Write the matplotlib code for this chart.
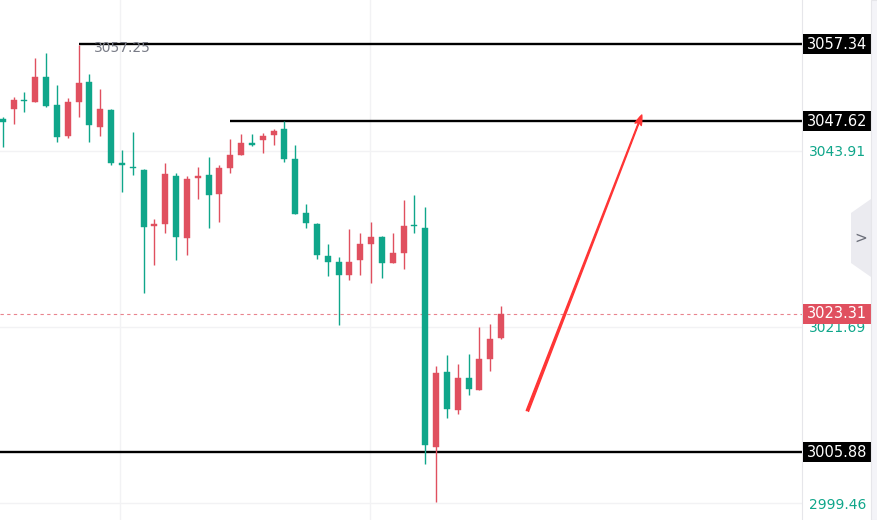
import matplotlib.pyplot as plt
import matplotlib.transforms as mtransforms
from matplotlib.patches import Rectangle, Polygon
import numpy as np

# bougies (open, high, low, close)
opens = [3047.84, 3049.18, 3050.24, 3050.06, 3053.22, 3049.61, 3045.74, 3050.06, 3052.59, 3046.91,
         3049.08, 3042.27, 3041.80, 3041.41, 3034.33, 3034.64, 3040.73, 3032.91, 3040.48, 3040.78,
         3038.46, 3041.74, 3043.34, 3044.76, 3045.23, 3045.86, 3046.58, 3042.80, 3035.99, 3034.70,
         3030.64, 3029.85, 3028.21, 3030.06, 3032.12, 3033.04, 3029.76, 3031.02, 3034.49, 3034.10,
         3006.56, 3015.98, 3011.15, 3015.18, 3013.71, 3017.62, 3020.30]
highs = [3048.17, 3050.69, 3051.32, 3055.61, 3056.24, 3052.13, 3050.49, 3057.25, 3053.56, 3051.67,
         3049.14, 3043.97, 3046.28, 3041.54, 3035.27, 3042.30, 3041.04, 3040.73, 3041.87, 3043.13,
         3042.08, 3045.36, 3045.99, 3045.99, 3046.08, 3046.58, 3047.62, 3044.60, 3037.13, 3034.73,
         3032.08, 3030.52, 3034.01, 3033.47, 3034.93, 3033.17, 3033.47, 3037.67, 3038.26, 3036.82,
         3016.77, 3018.08, 3016.99, 3018.25, 3021.69, 3021.99, 3024.34]
lows = [3044.39, 3047.25, 3048.80, 3050.00, 3049.43, 3045.02, 3045.45, 3048.17, 3045.02, 3045.78,
        3042.04, 3038.72, 3040.82, 3025.90, 3029.47, 3033.54, 3030.10, 3030.73, 3037.76, 3034.18,
        3034.93, 3041.11, 3043.30, 3044.48, 3043.63, 3044.60, 3042.42, 3035.85, 3034.10, 3030.23,
        3028.08, 3021.91, 3027.58, 3028.21, 3027.24, 3027.87, 3029.70, 3028.93, 3033.57, 3004.38,
        2999.62, 3010.22, 3010.68, 3013.04, 3013.65, 3016.14, 3020.14]
closes = [3047.50, 3050.24, 3050.15, 3053.22, 3049.56, 3045.65, 3050.03, 3052.46, 3047.09, 3049.14,
          3042.30, 3042.14, 3041.68, 3034.30, 3034.60, 3040.91, 3033.04, 3040.28, 3040.73, 3038.26,
          3041.70, 3043.30, 3044.86, 3044.63, 3045.80, 3046.41, 3042.84, 3035.90, 3034.81, 3030.69,
          3029.89, 3028.21, 3029.85, 3032.08, 3033.04, 3029.76, 3030.95, 3034.43, 3034.36, 3006.77,
          3015.85, 3011.31, 3015.18, 3013.87, 3017.58, 3020.10, 3023.31]

# niveaux horizontaux (prix, index de depart)
niveaux = [3057.34, 3047.62, 3005.88]
niveaux_debut = [7, 21, -1]
ticks_prix = [2999.46, 3021.69, 3043.91]
plus_haut_label = 3057.25
fleche_debut = (48.43, 3011.06)
fleche_fin = (58.99, 3048.39)

rouge = '#e0505f'
vert = '#0fa68a'

fig = plt.figure(figsize=(8.78, 5.2), dpi=100)
ax = fig.add_axes([0, 0, 802 / 878, 1])
ax.set_xlim(-0.25, 73.78)
ax.set_ylim(2997.32, 3062.89)

# grille legere
for t in ticks_prix:
    ax.axhline(t, color='#f2f2f4', lw=1, zorder=0)
for v in [10.83, 33.9]:
    ax.axvline(v, color='#f2f2f4', lw=1, zorder=0)

# bougies
x = np.arange(len(opens))
o = np.array(opens)
c = np.array(closes)
couleurs = [rouge if c[i] > o[i] else vert for i in range(len(o))]
ax.vlines(x, lows, highs, colors=couleurs, lw=1, zorder=3)
bas = np.minimum(o, c)
haut = np.maximum(np.abs(c - o), 0.18)
ax.bar(x, haut, bottom=bas, width=0.56, color=couleurs, edgecolor=couleurs, lw=0.3, zorder=4)

# lignes de niveaux
for p, d in zip(niveaux, niveaux_debut):
    ax.hlines(p, d if d >= 0 else -0.25, 73.78, color='black', lw=1.7, zorder=2)

# prix courant
ax.axhline(closes[-1], color=rouge, lw=0.8, ls=(0, (3, 3)), alpha=0.7, zorder=1)

# etiquette du plus haut
ax.annotate(f'{plus_haut_label:.2f}', xy=(7, plus_haut_label), xytext=(11, -2.2),
            textcoords='offset points', ha='left', va='center', color='#787b86', fontsize=10)

# fleche
ax.annotate('', xy=fleche_fin, xytext=fleche_debut,
            arrowprops=dict(arrowstyle='fancy,head_length=0.9,head_width=0.6,tail_width=0.22',
                            color='#ff3535', shrinkA=0, shrinkB=0, mutation_scale=8), zorder=5)

ax.set_xticks([])
ax.set_yticks(ticks_prix)
ax.set_yticklabels([f'{t:.2f}' for t in ticks_prix])
ax.yaxis.tick_right()
ax.tick_params(axis='y', length=0, pad=5, labelcolor=vert, labelsize=10)
for s in ['top', 'left', 'bottom']:
    ax.spines[s].set_visible(False)
ax.spines['right'].set_color('#e6e6ea')

# etiquettes de l'axe des prix
trans = mtransforms.blended_transform_factory(ax.transAxes, ax.transData)
demi = 10 / (520 / (3062.89 - 2997.32))
boites = [(p, 'black') for p in niveaux] + [(closes[-1], rouge)]
for p, col in boites:
    ax.add_patch(Rectangle((1.0015, p - demi), 68 / 802, 2 * demi, transform=trans,
                           facecolor=col, edgecolor='none', clip_on=False, zorder=6))
    ax.text(1.0015 + 34 / 802, p, f'{p:.2f}', transform=trans, ha='center', va='center',
            color='white', fontsize=10.5, clip_on=False, zorder=7)

# bouton de defilement et bordure droite
fig.add_artist(Polygon([(851 / 878, 1 - 213 / 520), (871 / 878, 1 - 199 / 520),
                        (871 / 878, 1 - 277 / 520), (851 / 878, 1 - 263 / 520)],
                       closed=True, transform=fig.transFigure, facecolor='#ebebf0', edgecolor='none'))
fig.text(861 / 878, 1 - 238 / 520, '>', ha='center', va='center', color='#6a6d78', fontsize=11)
fig.add_artist(Rectangle((871 / 878, 0), 7 / 878, 1, transform=fig.transFigure,
                         facecolor='#f4f4f8', edgecolor='#e6e6ea', lw=0.8))

plt.savefig('out.png', dpi=100)
